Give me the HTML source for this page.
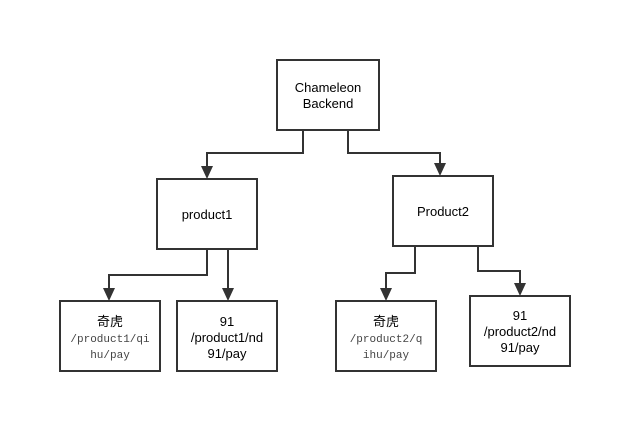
<!DOCTYPE html>
<html><head><style>body{margin:0;background:#fff}</style></head><body>
<svg width="630" height="432" xmlns="http://www.w3.org/2000/svg" font-family="Liberation Sans, Noto Sans CJK SC, sans-serif" font-size="13" fill="#000">
<g fill="none" stroke="#333" stroke-width="2">
<rect x="277" y="60" width="102" height="70" fill="#fff"/>
<rect x="157" y="179" width="100" height="70"/>
<rect x="393" y="176" width="100" height="70"/>
<rect x="60" y="301" width="100" height="70"/>
<rect x="177" y="301" width="100" height="70"/>
<rect x="336" y="301" width="100" height="70"/>
<rect x="470" y="296" width="100" height="70"/>
<polyline points="303,130 303,153 207,153 207,168"/>
<polyline points="348,130 348,153 440,153 440,165"/>
<polyline points="207,249 207,275 109,275 109,290"/>
<polyline points="228,249 228,290"/>
<polyline points="415,246 415,273 386,273 386,290"/>
<polyline points="478,246 478,271 520,271 520,285"/>
</g>
<g fill="#333">
<path d="M201,166 L213,166 L207,179 Z"/>
<path d="M434,163 L446,163 L440,176 Z"/>
<path d="M103,288 L115,288 L109,301 Z"/>
<path d="M222,288 L234,288 L228,301 Z"/>
<path d="M380,288 L392,288 L386,301 Z"/>
<path d="M514,283 L526,283 L520,296 Z"/>
</g>
<g text-anchor="middle">
<text x="328" y="92">Chameleon</text>
<text x="328" y="108">Backend</text>
<text x="207" y="219">product1</text>
<text x="443" y="216">Product2</text>
<text x="110" y="326">奇虎</text>
<text x="110" y="342" font-family="Liberation Mono, monospace" font-size="11" fill="#444">/product1/qi</text>
<text x="110" y="358" font-family="Liberation Mono, monospace" font-size="11" fill="#444">hu/pay</text>
<text x="227" y="326">91</text>
<text x="227" y="342">/product1/nd</text>
<text x="227" y="358">91/pay</text>
<text x="386" y="326">奇虎</text>
<text x="386" y="342" font-family="Liberation Mono, monospace" font-size="11" fill="#444">/product2/q</text>
<text x="386" y="358" font-family="Liberation Mono, monospace" font-size="11" fill="#444">ihu/pay</text>
<text x="520" y="320">91</text>
<text x="520" y="336">/product2/nd</text>
<text x="520" y="352">91/pay</text>
</g>
</svg>
</body></html>
